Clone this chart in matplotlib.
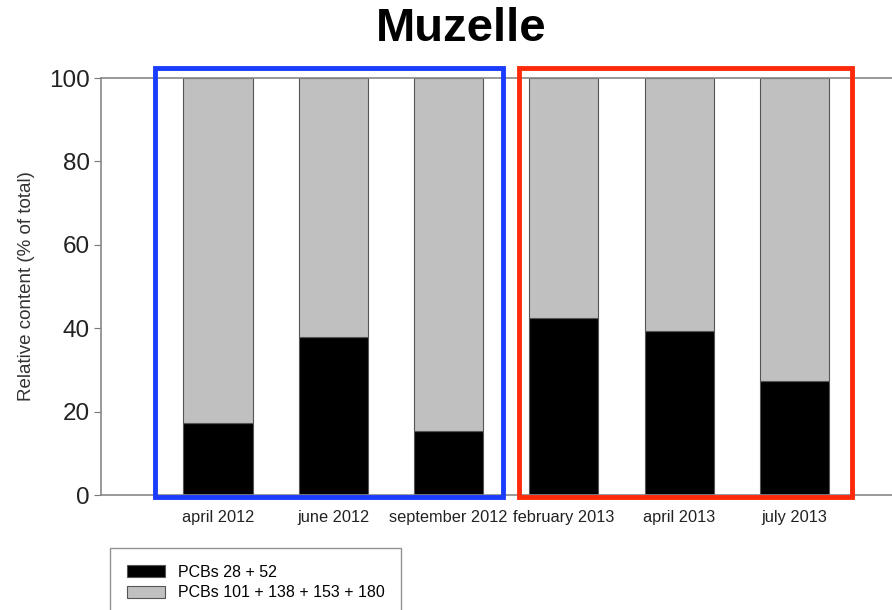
import matplotlib

matplotlib.use('Agg')
import matplotlib.pyplot as plt
from matplotlib.patches import Rectangle

plt.rcParams['font.family'] = ['Liberation Sans', 'DejaVu Sans']

campaigns = ['april 2012', 'june 2012', 'september 2012', 'february 2013', 'april 2013', 'july 2013']
light_pcbs = [17.3, 37.9, 15.3, 42.4, 39.3, 27.3]
heavy_pcbs = [100 - v for v in light_pcbs]

fig = plt.figure(figsize=(8.92, 6.10), dpi=100)
ax = fig.add_axes([0.1132, 0.1885, 0.8868, 0.6836])

x = list(range(len(campaigns)))
ax.bar(x, light_pcbs, width=0.6, color='black', edgecolor='#555555', linewidth=0.8,
       label='PCBs 28 + 52')
ax.bar(x, heavy_pcbs, width=0.6, bottom=light_pcbs, color='#c0c0c0', edgecolor='#555555',
       linewidth=0.8, label='PCBs 101 + 138 + 153 + 180')

ax.set_xlim(-1.015, 5.846)
ax.set_ylim(0, 100)
ax.set_yticks([0, 20, 40, 60, 80, 100])
ax.set_xticks(x)
ax.set_xticklabels(campaigns, fontsize=11.8, color='#222222')
ax.tick_params(axis='y', labelsize=17.5, length=5, color='#777777', labelcolor='#222222', pad=3)
ax.tick_params(axis='x', length=2, color='#777777', pad=9)
ax.set_ylabel('Relative content (% of total)', fontsize=13.5, color='#333333', labelpad=10)

for side in ['left', 'top', 'bottom']:
    ax.spines[side].set_color('#888888')
    ax.spines[side].set_linewidth(1.2)
ax.spines['right'].set_visible(False)

# group frames: 2012 campaigns in blue, 2013 campaigns in red
ax.add_patch(Rectangle((-0.546, -0.5), 2.468 + 0.546, 102.9, fill=False,
                       edgecolor='#1a3cff', linewidth=3.5, clip_on=False, zorder=5))
ax.add_patch(Rectangle((3 - 0.386, -0.5), 2.5 + 0.386, 102.9, fill=False,
                       edgecolor='#ff2a0a', linewidth=3.5, clip_on=False, zorder=5))

fig.text(0.517, 0.953, 'Muzelle', ha='center', va='center', fontsize=34, fontweight='bold')

fig.legend(loc='upper left', bbox_to_anchor=(0.1233, 0.1016), borderaxespad=0, fontsize=11.5,
           frameon=True, fancybox=False, edgecolor='#777777', handlelength=2.4,
           handleheight=0.8, borderpad=1.05, labelspacing=0.35)

fig.savefig('out.png', dpi=100)
